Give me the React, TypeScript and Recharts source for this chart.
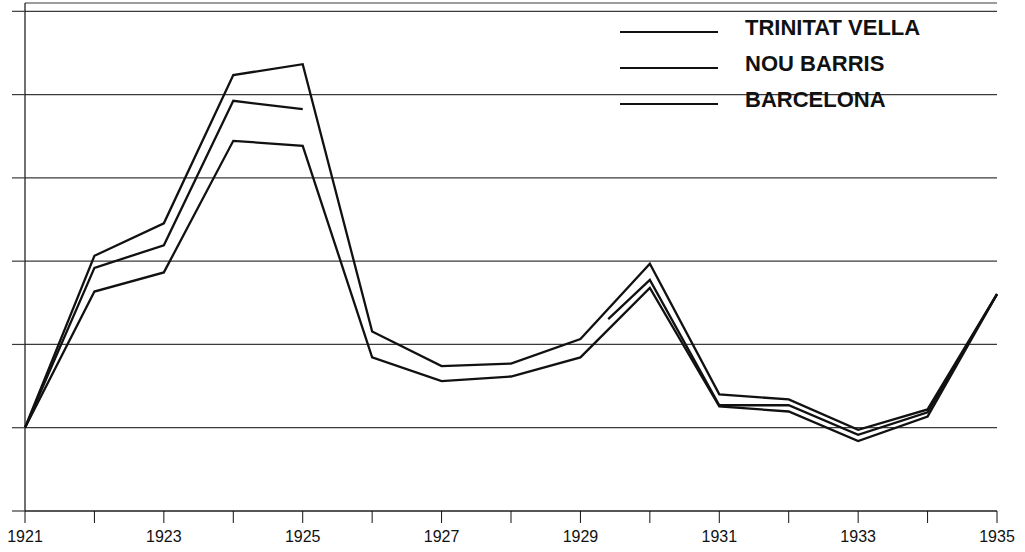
import { CartesianGrid, Line, LineChart, XAxis, YAxis } from 'recharts';

const years = [1921, 1922, 1923, 1924, 1925, 1926, 1927, 1928, 1929, 1930, 1931, 1932, 1933, 1934, 1935];
const trinitatVella = [100, 141.3, 149.1, 184.7, 187.3, 123.1, 114.8, 115.4, 121.3, 139.4, 108.0, 106.8, 99.5, 104.4, 132.1];
const barcelona = [100, 132.7, 137.3, 168.9, 167.7, 116.9, 111.2, 112.3, 116.9, 133.6, 105.1, 103.9, 96.8, 102.7, 132.1];
// Nou Barris: no data 1926-1929, line resumes part-way through 1929
const nouBarrisYears = [1921, 1922, 1923, 1924, 1925, 1926, 1929.4, 1930, 1931, 1932, 1933, 1934, 1935];
const nouBarris = [100, 138.4, 143.8, 178.5, 176.5, null, 126.1, 135.5, 105.4, 105.4, 98.3, 103.7, 132.1];
const yTicks = [80, 100, 120, 140, 160, 180, 200];

const toRows = (xs: number[], vs: (number | null)[]) => xs.map((year, i) => ({ year, value: vs[i] }));

const series = [
  { name: 'TRINITAT VELLA', data: toRows(years, trinitatVella) },
  { name: 'NOU BARRIS', data: toRows(nouBarrisYears, nouBarris) },
  { name: 'BARCELONA', data: toRows(years, barcelona) },
];

const ink = '#111';
const grid = '#3a3a3a';
const font = '"Liberation Sans", Arial, Helvetica, sans-serif';

function LegendBox() {
  return (
    <div style={{ position: 'absolute', left: 620, top: 10, fontFamily: font }}>
      {series.map((s) => (
        <div key={s.name} style={{ display: 'flex', alignItems: 'center', height: 36 }}>
          <div style={{ width: 98, height: 2, background: ink, marginTop: 8 }} />
          <span style={{ marginLeft: 27, fontSize: 22, fontWeight: 700, color: ink, whiteSpace: 'nowrap' }}>{s.name}</span>
        </div>
      ))}
    </div>
  );
}

export default function App() {
  return (
    <div style={{ position: 'absolute', left: 0, top: 0, width: 1025, height: 552, background: '#fff' }}>
      <LineChart width={1025} height={552} margin={{ top: 3, right: 28, bottom: 0, left: 12 }}>
        <CartesianGrid vertical={false} stroke={grid} strokeWidth={1.2} />
        <XAxis
          dataKey="year"
          type="number"
          domain={[1921, 1935]}
          ticks={years}
          interval={0}
          height={41}
          tickSize={12}
          tickMargin={8}
          axisLine={{ stroke: ink, strokeWidth: 1.2 }}
          tickLine={{ stroke: ink }}
          tick={{ fill: ink, fontSize: 16, fontFamily: font }}
          tickFormatter={(v: number) => ((v - 1921) % 2 === 0 ? String(v) : '')}
          allowDuplicatedCategory={false}
        />
        <YAxis
          type="number"
          domain={[80, 202]}
          ticks={yTicks}
          interval={0}
          width={13}
          tickSize={13}
          axisLine={{ stroke: ink, strokeWidth: 1.2 }}
          tickLine={{ stroke: grid, strokeWidth: 1.2 }}
          tickFormatter={() => ''}
        />
        {series.map((s) => (
          <Line
            key={s.name}
            data={s.data}
            dataKey="value"
            name={s.name}
            type="linear"
            stroke={ink}
            strokeWidth={2.3}
            dot={false}
            activeDot={false}
            connectNulls={false}
            isAnimationActive={false}
          />
        ))}
      </LineChart>
      <LegendBox />
    </div>
  );
}
